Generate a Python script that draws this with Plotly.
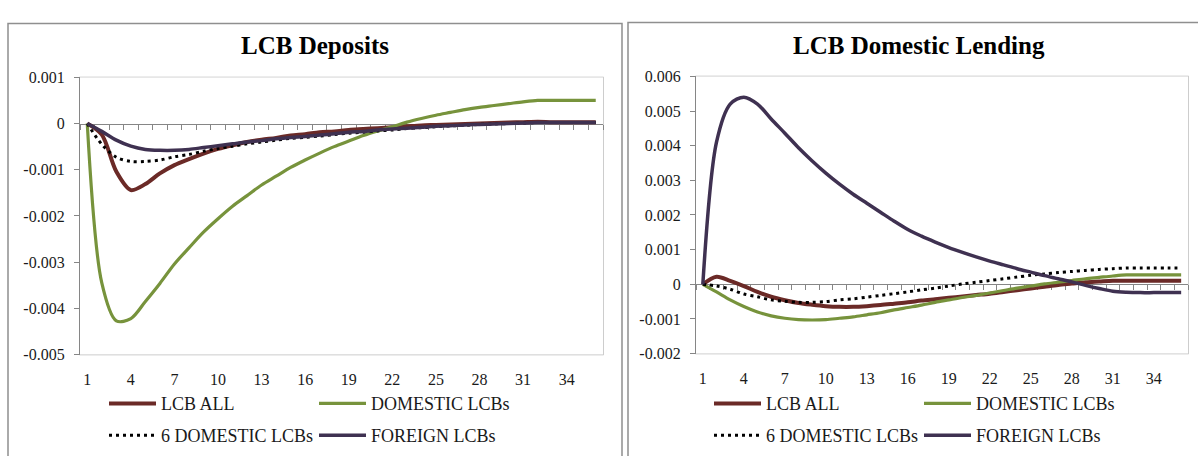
import plotly.graph_objects as go

# Horizon (periods after the shock)
periods = list(range(1, 37))

# Impulse responses: LCB deposits
dep_lcb_all = [0, -0.00024, -0.00104, -0.00144, -0.00131, -0.00108, -0.00090, -0.00077, -0.00065, -0.00055,
               -0.00047, -0.00040, -0.00035, -0.00031, -0.00026, -0.00023, -0.00019, -0.00017, -0.00014, -0.00012,
               -0.00010, -0.00008, -0.00006, -0.00004, -0.00003, -0.00002, -0.00001, 0.0, 0.00001, 0.00002,
               0.00003, 0.00004, 0.00003, 0.00003, 0.00003, 0.00003]
dep_domestic = [0, -0.00345, -0.00427, -0.00422, -0.00385, -0.00346, -0.00304, -0.00269, -0.00235, -0.00206,
                -0.00179, -0.00156, -0.00133, -0.00114, -0.00095, -0.00079, -0.00064, -0.00050, -0.00038, -0.00026,
                -0.00016, -0.00007, 0.00003, 0.00011, 0.00018, 0.00024, 0.00030, 0.00035, 0.00039, 0.00043,
                0.00047, 0.00050, 0.00050, 0.00050, 0.00050, 0.00050]
dep_six_domestic = [0, -0.00045, -0.00073, -0.00082, -0.00082, -0.00079, -0.00072, -0.00067, -0.00060, -0.00054,
                    -0.00049, -0.00044, -0.00040, -0.00036, -0.00032, -0.00030, -0.00027, -0.00024, -0.00021, -0.00019,
                    -0.00016, -0.00014, -0.00011, -0.00009, -0.00007, -0.00005, -0.00004, -0.00002, -0.00001, 0.0,
                    0.00001, 0.00002, 0.00002, 0.00002, 0.00002, 0.00002]
dep_foreign = [0, -0.00017, -0.00036, -0.00049, -0.00056, -0.00058, -0.00058, -0.00056, -0.00052, -0.00048,
               -0.00044, -0.00040, -0.00037, -0.00033, -0.00030, -0.00028, -0.00025, -0.00022, -0.00019, -0.00017,
               -0.00014, -0.00012, -0.00010, -0.00008, -0.00006, -0.00005, -0.00003, -0.00002, -0.00001, 0.0,
               0.00001, 0.00002, 0.00002, 0.00002, 0.00002, 0.00002]

# Impulse responses: LCB domestic lending
lend_lcb_all = [0, 0.00022, 0.00010, -0.00005, -0.00022, -0.00036, -0.00046, -0.00054, -0.00059, -0.00063,
                -0.00065, -0.00065, -0.00063, -0.00060, -0.00056, -0.00052, -0.00047, -0.00043, -0.00039, -0.00035,
                -0.00031, -0.00027, -0.00022, -0.00017, -0.00012, -0.00007, -0.00002, 0.00002, 0.00006, 0.00008,
                0.00010, 0.00010, 0.00010, 0.00010, 0.00010, 0.00010]
lend_domestic = [0, -0.00022, -0.00045, -0.00064, -0.00080, -0.00091, -0.00098, -0.00102, -0.00103, -0.00102,
                 -0.00098, -0.00094, -0.00088, -0.00082, -0.00074, -0.00067, -0.00060, -0.00052, -0.00045, -0.00038,
                 -0.00032, -0.00025, -0.00018, -0.00011, -0.00005, 0.00001, 0.00006, 0.00011, 0.00016, 0.00020,
                 0.00024, 0.00027, 0.00027, 0.00027, 0.00027, 0.00027]
lend_six_domestic = [0, -0.00005, -0.00014, -0.00028, -0.00036, -0.00045, -0.00049, -0.00052, -0.00052, -0.00050,
                     -0.00045, -0.00042, -0.00037, -0.00032, -0.00027, -0.00022, -0.00016, -0.00011, -0.00005, 0.00001,
                     0.00006, 0.00011, 0.00016, 0.00021, 0.00026, 0.00030, 0.00034, 0.00037, 0.00040, 0.00043,
                     0.00045, 0.00047, 0.00047, 0.00047, 0.00047, 0.00047]
lend_foreign = [0, 0.00410, 0.00520, 0.00540, 0.00520, 0.00477, 0.00436, 0.00394, 0.00356, 0.00321,
                0.00289, 0.00260, 0.00234, 0.00208, 0.00182, 0.00158, 0.00139, 0.00122, 0.00106, 0.00092,
                0.00079, 0.00067, 0.00056, 0.00045, 0.00035, 0.00025, 0.00016, 0.00007, -0.00003, -0.00012,
                -0.00020, -0.00023, -0.00024, -0.00024, -0.00024, -0.00024]

series_names = ["LCB ALL", "DOMESTIC LCBs", "6 DOMESTIC LCBs", "FOREIGN LCBs"]
x_tick_labels = [1, 4, 7, 10, 13, 16, 19, 22, 25, 28, 31, 34]
dep_y_ticks = [0.001, 0, -0.001, -0.002, -0.003, -0.004, -0.005]
lend_y_ticks = [0.006, 0.005, 0.004, 0.003, 0.002, 0.001, 0, -0.001, -0.002]

W, H = 1198, 456
FONT = "Liberation Serif, Times New Roman, serif"
TXT = "#1a1a1a"
AXIS = "#868686"
FRAME = "#b3b3b3"

styles = [
    dict(color="#6b2a27", width=4),
    dict(color="#77933c", width=3.2),
    dict(color="black", width=3, dash="3px,4px"),
    dict(color="#3f3151", width=3.5),
]


def px(x):
    return x / W


def py(y):
    return 1 - y / H


fig = go.Figure()

panels = [
    dict(data=[dep_lcb_all, dep_domestic, dep_six_domestic, dep_foreign], xa="x3", ya="y", xl="x",
         legends=["legend", "legend2", "legend3", "legend4"]),
    dict(data=[lend_lcb_all, lend_domestic, lend_six_domestic, lend_foreign], xa="x4", ya="y2", xl="x2",
         legends=["legend5", "legend6", "legend7", "legend8"]),
]

for p in panels:
    # empty series so the bottom (label) axis gets its own subplot
    fig.add_trace(go.Scatter(x=[], y=[], xaxis=p["xl"], yaxis=p["ya"], showlegend=False,
                             hoverinfo="skip"))
    for name, vals, st, lg in zip(series_names, p["data"], styles, p["legends"]):
        fig.add_trace(go.Scatter(
            x=periods, y=vals, name=name, mode="lines",
            line=dict(shape="spline", smoothing=0.9, **st),
            xaxis=p["xa"], yaxis=p["ya"], legend=lg, hoverinfo="skip",
        ))

dep_range = [-0.005, 0.001]
lend_range = [-0.002, 0.006]
dep_dom = [py(360), py(72)]
lend_dom = [py(359), py(71)]
dep_xdom = [px(80), px(603)]
lend_xdom = [px(696), px(1188)]


def zero_pos(rng, dom):
    frac = (0 - rng[0]) / (rng[1] - rng[0])
    return dom[0] + frac * (dom[1] - dom[0])


xr = [0.5, 36.5]
boundaries = [k + 0.5 for k in range(0, 37)]
tickfont = dict(family=FONT, size=16, color=TXT)

label_axis = dict(range=xr, tickmode="array", tickvals=x_tick_labels,
                  ticktext=[str(v) for v in x_tick_labels], ticks="", showline=False,
                  showgrid=False, zeroline=False, tickfont=tickfont, ticklabelstandoff=13)
zero_axis = dict(range=xr, tickmode="array", tickvals=boundaries, ticks="outside", ticklen=5,
                 tickwidth=1, tickcolor=AXIS, showticklabels=False, showline=True, linecolor=AXIS,
                 linewidth=1.3, showgrid=False, zeroline=False, anchor="free", layer="below traces")


def y_axis(rng, ticks, dom, anchor):
    return dict(range=rng, domain=dom, anchor=anchor, tickmode="array", tickvals=ticks,
                ticktext=[f"{v:g}" for v in ticks], ticks="outside", ticklen=5, tickcolor=AXIS,
                showline=True, linecolor=AXIS, linewidth=1.3, showgrid=False, zeroline=False,
                tickfont=tickfont, ticklabelstandoff=6)


fig.update_layout(
    width=W, height=H, autosize=False,
    margin=dict(l=0, r=0, t=0, b=0),
    paper_bgcolor="white", plot_bgcolor="white",
    showlegend=True,
    xaxis=dict(domain=dep_xdom, anchor="y", **label_axis),
    xaxis2=dict(domain=lend_xdom, anchor="y2", **label_axis),
    xaxis3=dict(domain=dep_xdom, position=zero_pos(dep_range, dep_dom), **zero_axis),
    xaxis4=dict(domain=lend_xdom, position=zero_pos(lend_range, lend_dom), **zero_axis),
    yaxis=y_axis(dep_range, dep_y_ticks, dep_dom, "x3"),
    yaxis2=y_axis(lend_range, lend_y_ticks, lend_dom, "x4"),
)

# Legends: two rows of two entries under each panel
leg_font = dict(family=FONT, size=18, color=TXT)
leg_pos = {
    "legend": (104, 411), "legend2": (314, 411), "legend3": (104, 444), "legend4": (314, 444),
    "legend5": (709, 411), "legend6": (919, 411), "legend7": (709, 444), "legend8": (919, 444),
}
legend_layout = {}
for key, (lx, ly) in leg_pos.items():
    legend_layout[key] = dict(x=px(lx), y=py(ly), xanchor="left", yanchor="middle",
                              orientation="h", itemwidth=47, font=leg_font,
                              bgcolor="rgba(0,0,0,0)", borderwidth=0,
                              itemclick=False, itemdoubleclick=False)
fig.update_layout(**legend_layout)

# Plot-area frames
for xd, yd in (("x domain", "y domain"), ("x2 domain", "y2 domain")):
    fig.add_shape(type="rect", xref=xd, yref=yd, x0=0, x1=1, y0=0, y1=1,
                  line=dict(color=FRAME, width=1.3), layer="below")

# Chart-area borders
fig.add_shape(type="rect", xref="paper", yref="paper", x0=px(8), x1=px(622), y0=-0.2, y1=py(16),
              line=dict(color="#8f8f8f", width=1.5), layer="below")
fig.add_shape(type="rect", xref="paper", yref="paper", x0=px(628), x1=1.2, y0=-0.2, y1=py(15),
              line=dict(color="#8f8f8f", width=1.5), layer="below")

# Panel titles
title_font = dict(family=FONT, size=25, color="black")
fig.add_annotation(text="<b>LCB Deposits</b>", x=px(315), y=py(39), xref="paper", yref="paper",
                   showarrow=False, font=title_font, xanchor="center", yanchor="middle")
fig.add_annotation(text="<b>LCB Domestic Lending</b>", x=px(919), y=py(39), xref="paper", yref="paper",
                   showarrow=False, font=title_font, xanchor="center", yanchor="middle")

fig.write_html("out.html")
